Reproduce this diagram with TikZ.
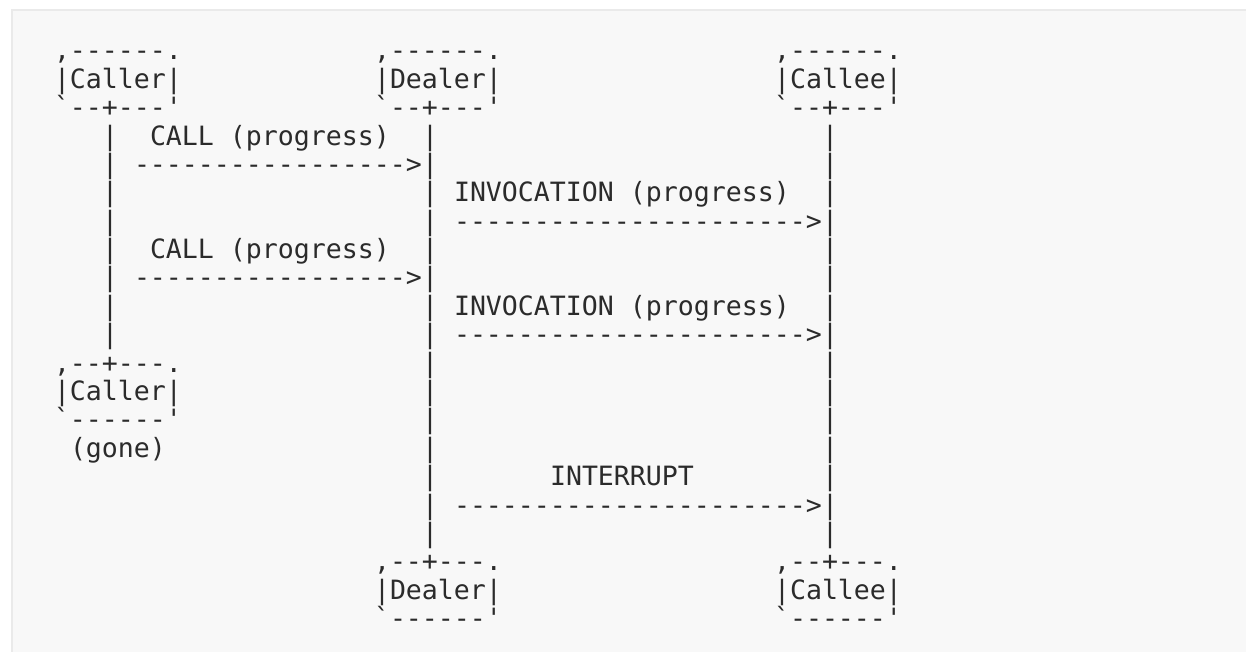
\documentclass[tikz,border=0pt]{standalone}
\usepackage{fontspec}
\setmonofont{DejaVu Sans Mono}
\definecolor{pagefill}{HTML}{F8F8F8}
\definecolor{pageedge}{HTML}{EAEAEA}
\definecolor{ink}{HTML}{2B2B2B}
\tikzset{ascii/.style={anchor=base west,inner sep=0pt,outer sep=0pt,text=ink,
        font=\ttfamily\fontsize{19.93}{21.29}\selectfont}}
\begin{document}
\begin{tikzpicture}[x=12pt,y=-21.29pt]
        \useasboundingbox (-3.375,-2.11) rectangle (74.5,20.856);
        \fill[pagefill] (-2.656,-1.775) rectangle (74.5,20.856);
        \draw[pageedge,line width=1.5pt] (-2.656,20.856) |- (74.5,-1.775);
        % actors on top
        \node[ascii] (callerTopA) at (0,0) {,------.};
        \node[ascii] (callerTop) at (0,1) {|Caller|};
        \node[ascii] (callerTopB) at (0,2) {`--+---'};
        \node[ascii] (dealerTopA) at (20,0) {,------.};
        \node[ascii] (dealerTop) at (20,1) {|Dealer|};
        \node[ascii] (dealerTopB) at (20,2) {`--+---'};
        \node[ascii] (calleeTopA) at (45,0) {,------.};
        \node[ascii] (calleeTop) at (45,1) {|Callee|};
        \node[ascii] (calleeTopB) at (45,2) {`--+---'};
        % lifelines
        \foreach \r in {3,...,10}
            \node[ascii] (callerLife\r) at (3,\r) {|};
        \foreach \r in {3,...,17} {
            \node[ascii] (dealerLife\r) at (23,\r) {|};
            \node[ascii] (calleeLife\r) at (48,\r) {|};
        }
        % messages
        \node[ascii] (call1) at (6,3) {CALL (progress)};
        \node[ascii] (call1Arrow) at (5,4) {----------------->};
        \node[ascii] (inv1) at (25,5) {INVOCATION (progress)};
        \node[ascii] (inv1Arrow) at (25,6) {---------------------->};
        \node[ascii] (call2) at (6,7) {CALL (progress)};
        \node[ascii] (call2Arrow) at (5,8) {----------------->};
        \node[ascii] (inv2) at (25,9) {INVOCATION (progress)};
        \node[ascii] (inv2Arrow) at (25,10) {---------------------->};
        \node[ascii] (interrupt) at (31,15) {INTERRUPT};
        \node[ascii] (interruptArrow) at (25,16) {---------------------->};
        % caller leaves
        \node[ascii] (callerEndA) at (0,11) {,--+---.};
        \node[ascii] (callerEnd) at (0,12) {|Caller|};
        \node[ascii] (callerEndB) at (0,13) {`------'};
        \node[ascii] (gone) at (1,14) {(gone)};
        % actors at the bottom
        \node[ascii] (dealerEndA) at (20,18) {,--+---.};
        \node[ascii] (dealerEnd) at (20,19) {|Dealer|};
        \node[ascii] (dealerEndB) at (20,20) {`------'};
        \node[ascii] (calleeEndA) at (45,18) {,--+---.};
        \node[ascii] (calleeEnd) at (45,19) {|Callee|};
        \node[ascii] (calleeEndB) at (45,20) {`------'};
\end{tikzpicture}
\end{document}
